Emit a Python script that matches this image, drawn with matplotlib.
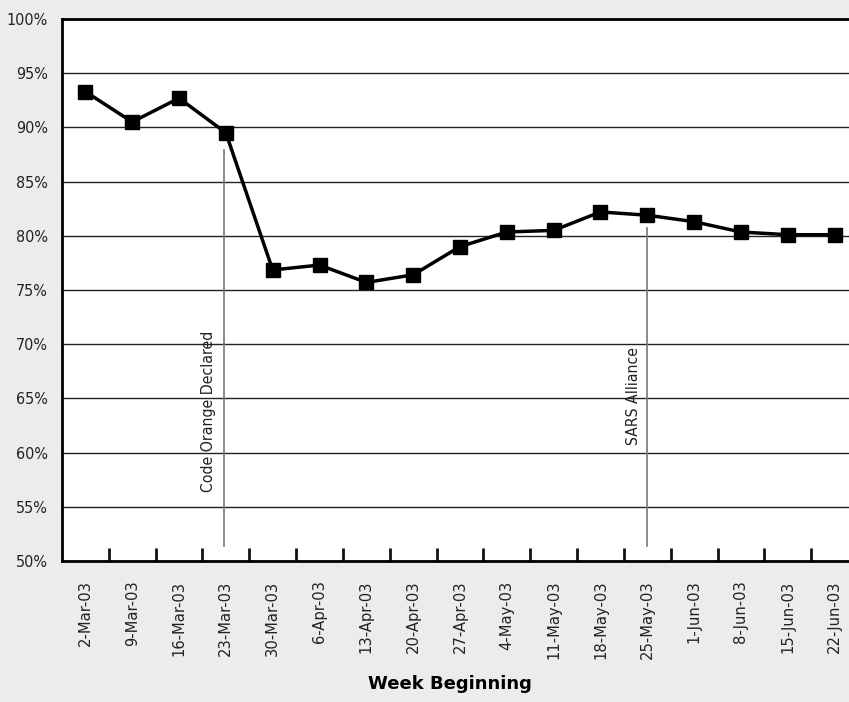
import matplotlib.pyplot as plt
import numpy as np

weeks = ["2-Mar-03", "9-Mar-03", "16-Mar-03", "23-Mar-03", "30-Mar-03", "6-Apr-03",
         "13-Apr-03", "20-Apr-03", "27-Apr-03", "4-May-03", "11-May-03", "18-May-03",
         "25-May-03", "1-Jun-03", "8-Jun-03", "15-Jun-03", "22-Jun-03"]
share = [93.3, 90.5, 92.7, 89.5, 76.85, 77.3, 75.7, 76.4, 79.0, 80.35, 80.5, 82.2,
         81.9, 81.3, 80.35, 80.1, 80.1]

# event markers: (x position, top of line, label, label start)
events = [(2.95, 87.9, "Code Orange Declared", 2.62, 56.4),
          (12.0, 80.7, "SARS Alliance", 11.7, 60.7)]

plt.rcParams['font.family'] = ['DejaVu Sans']
plt.rcParams['font.stretch'] = 'condensed'

fig = plt.figure(figsize=(8.49, 7.02), dpi=100)
fig.patch.set_facecolor("#ececec")
ax = fig.add_axes([0.073, 0.2009, 0.9376, 0.772])
ax.set_facecolor("white")

x = np.arange(len(weeks))
ax.set_ylim(50, 100)
ax.set_xlim(-0.5, len(weeks) - 0.5)
ax.set_yticks(np.arange(50, 101, 5))
ax.set_yticklabels([f"{v}%" for v in range(50, 101, 5)], fontsize=11.5, color="#222222")
ax.yaxis.grid(True, color="#222222", linewidth=1)
ax.set_axisbelow(True)
ax.tick_params(axis="y", length=0, pad=10)

ax.set_xticks(x)
ax.set_xticklabels(weeks, rotation=90, fontsize=11.8, color="#222222")
ax.set_xticks(np.arange(0.5, len(weeks) - 0.5, 1), minor=True)
ax.tick_params(axis="x", which="major", length=0, pad=14)
ax.tick_params(axis="x", which="minor", direction="in", length=9.5, width=2, color="#111111")

for s in ["left", "bottom", "top"]:
    ax.spines[s].set_linewidth(2)
    ax.spines[s].set_color("black")
ax.spines["right"].set_visible(False)

for ex, top, label, tx, ty in events:
    ax.plot([ex, ex], [51.4, top], color="#777777", linewidth=1.2)
    ax.text(tx, ty, label, rotation=90, ha="center", va="bottom", fontsize=11.3, color="#222222")

ax.plot(x, share, color="black", linewidth=2.5, marker="s", markersize=10, zorder=5)

ax.set_xlabel("Week Beginning", fontsize=13, fontweight="bold", fontstretch="normal")
ax.xaxis.set_label_coords(0.4874, -0.21)

fig.savefig("out.png", dpi=100, facecolor=fig.get_facecolor())
